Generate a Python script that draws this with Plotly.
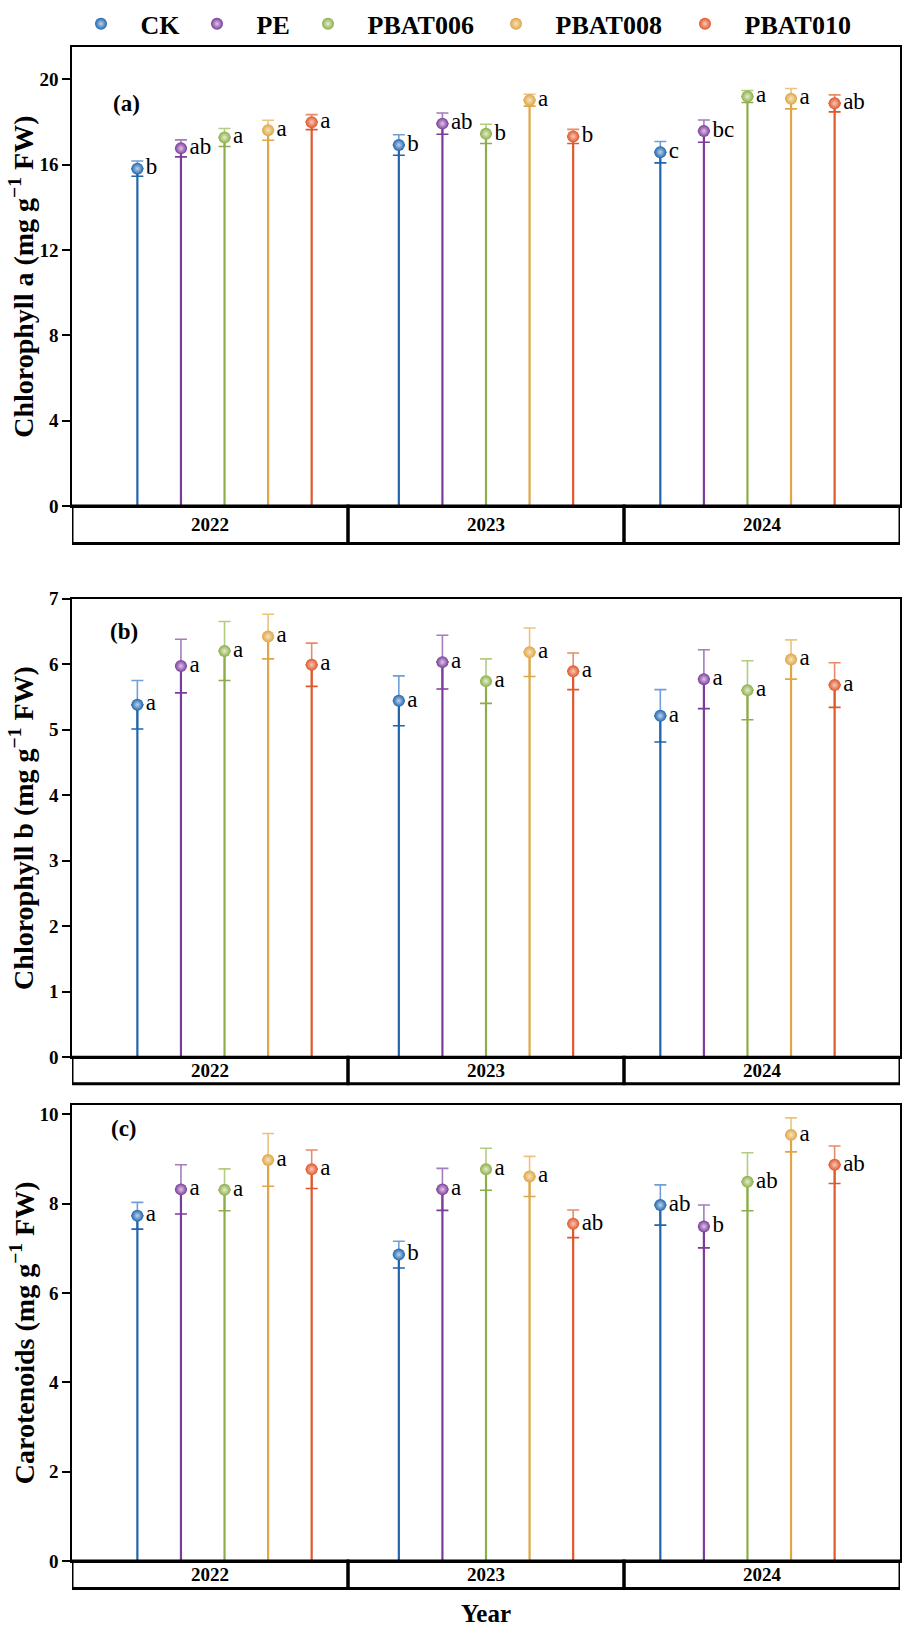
import plotly.graph_objects as go

years = ["2022", "2023", "2024"]
treatments = ["CK", "PE", "PBAT006", "PBAT008", "PBAT010"]
colors = ["#2165ad", "#7b3c99", "#8cae4a", "#dea646", "#df572c"]
upper = ["#6f9fd6", "#a37cbd", "#b2cc82", "#ebc37f", "#e98a68"]
tints = ["#bcd3ee", "#dcc6e8", "#e3eecc", "#f6e3bd", "#f6c9b8"]

# order: 2022 CK..PBAT010, 2023 CK..PBAT010, 2024 CK..PBAT010
chla_mean = [15.82, 16.77, 17.28, 17.62, 18.00,
             16.93, 17.93, 17.45, 19.03, 17.33,
             16.59, 17.58, 19.20, 19.10, 18.88]
chla_sd = [0.36, 0.40, 0.42, 0.47, 0.35,
           0.48, 0.50, 0.45, 0.28, 0.33,
           0.50, 0.52, 0.28, 0.48, 0.40]
chla_letters = ["b", "ab", "a", "a", "a",
                "b", "ab", "b", "a", "b",
                "c", "bc", "a", "a", "ab"]

chlb_mean = [5.38, 5.97, 6.20, 6.42, 5.99,
             5.44, 6.03, 5.74, 6.18, 5.89,
             5.21, 5.77, 5.60, 6.07, 5.68]
chlb_sd = [0.37, 0.41, 0.45, 0.34, 0.33,
           0.38, 0.41, 0.34, 0.37, 0.28,
           0.40, 0.45, 0.45, 0.30, 0.34]
chlb_letters = ["a"] * 15

car_mean = [7.73, 8.32, 8.31, 8.98, 8.77,
            6.86, 8.32, 8.77, 8.61, 7.55,
            7.97, 7.49, 8.49, 9.54, 8.87]
car_sd = [0.30, 0.55, 0.47, 0.59, 0.43,
          0.30, 0.47, 0.47, 0.45, 0.31,
          0.45, 0.48, 0.65, 0.38, 0.42]
car_letters = ["a", "a", "a", "a", "a",
               "b", "a", "a", "a", "ab",
               "ab", "b", "ab", "a", "ab"]

W, H = 913, 1637
FONT = "Liberation Serif"

def py(p):
    return 1 - p / H

x_dom = [72 / W, 900 / W]
panels = [
    dict(mean=chla_mean, sd=chla_sd, let=chla_letters, rng=[0, 21.5], dtick=4,
         top=33, bot=499, box=537, label="(a)", lab=(126, 90),
         title="Chlorophyll a (mg g<sup>−1</sup> FW)"),
    dict(mean=chlb_mean, sd=chlb_sd, let=chlb_letters, rng=[0, 7], dtick=1,
         top=593, bot=1059, box=1086, label="(b)", lab=(124, 626),
         title="Chlorophyll b (mg g<sup>−1</sup> FW)"),
    dict(mean=car_mean, sd=car_sd, let=car_letters, rng=[0, 10.2], dtick=2,
         top=1108, bot=1571, box=1599, label="(c)", lab=(124, 1131),
         title="Carotenoids (mg g<sup>−1</sup> FW)"),
]

# legend marker centres (px) for the five separate legends
legend_px = [106, 222, 333, 521, 710]
legend_ids = ["legend", "legend2", "legend3", "legend4", "legend5"]

fig = go.Figure()
shapes = []
annotations = []
layout = {}

for k, p in enumerate(panels):
    n = k + 1
    xa = "x" if n == 1 else f"x{n}"
    ya = "y" if n == 1 else f"y{n}"
    for t, name in enumerate(treatments):
        idx = [yi * 5 + t for yi in range(len(years))]
        xs = [yi * 6 + t + 1 for yi in range(len(years))]
        vals = [p["mean"][i] for i in idx]
        sds = [p["sd"][i] for i in idx]
        lets = [p["let"][i] for i in idx]
        zeros = [0] * len(sds)
        sx, sy = [], []
        for xv, v in zip(xs, vals):
            sx += [xv, xv, None]
            sy += [0, v, None]
        fig.add_trace(go.Scatter(x=sx, y=sy, mode="lines", xaxis=xa, yaxis=ya,
                                 line=dict(color=colors[t], width=2.2),
                                 showlegend=False, hoverinfo="skip"))
        fig.add_trace(go.Scatter(x=xs, y=vals, mode="markers", xaxis=xa, yaxis=ya,
                                 marker=dict(size=1, opacity=0),
                                 error_y=dict(type="data", symmetric=False, array=sds,
                                              arrayminus=zeros, color=upper[t],
                                              thickness=1.6, width=6),
                                 showlegend=False, hoverinfo="skip"))
        fig.add_trace(go.Scatter(x=xs, y=vals, mode="markers", xaxis=xa, yaxis=ya,
                                 marker=dict(size=1, opacity=0),
                                 error_y=dict(type="data", symmetric=False, array=zeros,
                                              arrayminus=sds, color=colors[t],
                                              thickness=1.6, width=6),
                                 showlegend=False, hoverinfo="skip"))
        fig.add_trace(go.Scatter(x=xs, y=vals, mode="markers+text", xaxis=xa, yaxis=ya,
                                 name="\u2002\u00a0" + name, text=lets,
                                 textposition="middle right",
                                 textfont=dict(family=FONT, size=23, color="black"),
                                 marker=dict(size=12, color=colors[t],
                                             gradient=dict(type="radial", color=tints[t])),
                                 showlegend=(k == 0), legend=legend_ids[t],
                                 hoverinfo="skip"))
    dom = [py(p["bot"]), py(p["top"])]
    layout[f"xaxis{'' if n == 1 else n}"] = dict(
        domain=x_dom, range=[-0.5, 18.5], anchor=ya, showline=True, mirror=True,
        linecolor="black", linewidth=1.6, showticklabels=False, ticks="",
        showgrid=False, zeroline=False)
    layout[f"yaxis{'' if n == 1 else n}"] = dict(
        domain=dom, range=p["rng"], dtick=p["dtick"], anchor=xa, showline=True,
        mirror=True, linecolor="black", linewidth=1.6, ticks="outside", ticklen=8,
        tickwidth=1.6, tickcolor="black", showgrid=False, zeroline=False,
        tickfont=dict(family=FONT, size=19, color="black", weight="bold"))
    for g, yr in enumerate(years):
        x0 = -0.5 + g * 19 / 3
        x1 = x0 + 19 / 3
        shapes.append(dict(type="rect", xref=xa, yref="paper", x0=x0, x1=x1,
                           y0=py(p["box"]), y1=py(p["bot"]),
                           line=dict(color="black", width=3)))
        annotations.append(dict(x=(x0 + x1) / 2, y=(py(p["box"]) + py(p["bot"])) / 2,
                                xref=xa, yref="paper", text=yr, showarrow=False,
                                xanchor="center", yanchor="middle",
                                font=dict(family=FONT, size=19, color="black", weight="bold")))
    annotations.append(dict(x=p["lab"][0] / W, y=py(p["lab"][1]), xref="paper", yref="paper",
                            text=p["label"], showarrow=False,
                            xanchor="center", yanchor="middle",
                            font=dict(family=FONT, size=23, color="black", weight="bold")))
    annotations.append(dict(x=22 / W, y=sum(dom) / 2, xref="paper", yref="paper",
                            text=p["title"], textangle=-90, showarrow=False,
                            xanchor="center", yanchor="middle",
                            font=dict(family=FONT, size=28, color="black", weight="bold")))

annotations.append(dict(x=486 / W, y=py(1624), xref="paper", yref="paper", text="Year",
                        showarrow=False, xanchor="center", yanchor="middle",
                        font=dict(family=FONT, size=25, color="black", weight="bold")))

legend_font = dict(family=FONT, size=26, color="black", weight="bold")
for lid, lpx in zip(legend_ids, legend_px):
    layout[lid] = dict(orientation="h", x=(lpx - 25) / W, y=py(9),
                       xanchor="left", yanchor="middle", font=legend_font,
                       bgcolor="rgba(0,0,0,0)", borderwidth=0)

fig.update_layout(
    width=W, height=H, margin=dict(l=0, r=0, t=0, b=0),
    paper_bgcolor="white", plot_bgcolor="white",
    shapes=shapes, annotations=annotations,
    **layout,
)

fig.write_html("out.html", config={"displayModeBar": False},
               post_script="document.body.style.margin='0px';")
